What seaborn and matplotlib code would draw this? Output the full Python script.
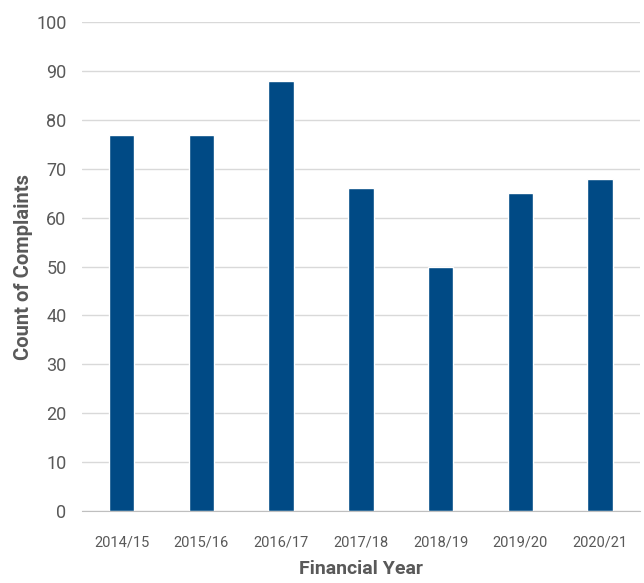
import numpy as np
import pandas as pd
import matplotlib
matplotlib.use('Agg')
import matplotlib.pyplot as plt
import seaborn as sns

# Data
years = ['2014/15', '2015/16', '2016/17', '2017/18', '2018/19', '2019/20', '2020/21']
complaints = [77, 77, 88, 66, 50, 65, 68]

df = pd.DataFrame({'year': years, 'count': complaints})

sns.set_style('white')
plt.rcParams['font.family'] = ['Roboto', 'DejaVu Sans']

fig = plt.figure(figsize=(6.44, 5.83), dpi=100)
ax = fig.add_axes([0.127, 0.1235, 0.867, 0.8385])

sns.barplot(data=df, x='year', y='count', color='#004a85', width=0.32,
            saturation=1, ax=ax, zorder=3)

ax.set_ylim(0, 100)
ax.set_yticks(range(0, 101, 10))
ax.yaxis.grid(True, color='#d9d9d9', linewidth=1, zorder=0)
ax.set_axisbelow(True)

for s in ['left', 'right', 'top']:
    ax.spines[s].set_visible(False)
ax.spines['bottom'].set_color('#bfbfbf')
ax.spines['bottom'].set_zorder(4)

ax.tick_params(axis='both', length=0, colors='#595959')
ax.tick_params(axis='y', labelsize=13, pad=11)
ax.tick_params(axis='x', labelsize=10.5, pad=18)

ax.set_xlabel('Financial Year', fontsize=14, fontweight='bold', color='#595959', labelpad=7)
ax.set_ylabel('Count of Complaints', fontsize=14.5, fontweight='bold', color='#595959', labelpad=2)

fig.savefig('out.png', dpi=100)
